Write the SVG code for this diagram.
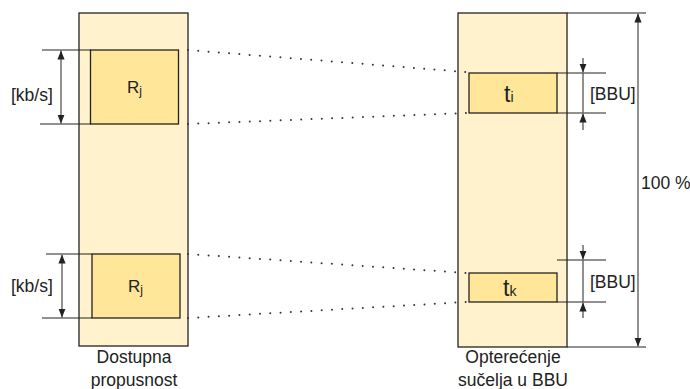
<svg xmlns="http://www.w3.org/2000/svg" width="690" height="389" viewBox="0 0 690 389">
<defs>
<marker id="ah" viewBox="0 0 10 10" refX="10" refY="5" markerWidth="9" markerHeight="9" markerUnits="userSpaceOnUse" orient="auto">
<path d="M0,1 L10,5 L0,9 Z" fill="#222"/>
</marker>
<style>
.col{fill:#FFF2CC;stroke:#222;stroke-width:1.3}
.box{fill:#FFE699;stroke:#222;stroke-width:1.3}
.ext{stroke:#222;stroke-width:1;fill:none}
.dim{stroke:#555;stroke-width:1.3;fill:none}
.dot{stroke:#333;stroke-width:2;stroke-linecap:round;stroke-dasharray:0 10.3;fill:none}
text{font-family:"Liberation Sans",Arial,sans-serif;fill:#222}
.lbl{font-size:17.5px}
.cap{font-size:17.5px;text-anchor:middle}
</style>
</defs>
<g id="col-left">
<rect class="col" x="79" y="13" width="109" height="333"/>
</g>
<g id="col-right">
<rect class="col" x="458" y="13" width="109" height="334"/>
</g>
<g id="rj-top">
<rect class="box" x="90.5" y="50" width="88" height="74"/>
<text x="127" y="93" font-size="17">R<tspan font-size="12" dy="2">j</tspan></text>
</g>
<g id="rj-bottom">
<rect class="box" x="92" y="254" width="88" height="64"/>
<text x="128" y="292" font-size="17">R<tspan font-size="12" dy="2">j</tspan></text>
</g>
<g id="ti">
<rect class="box" x="469" y="73" width="88" height="40"/>
<text x="504" y="102" font-size="23">t<tspan font-size="14">i</tspan></text>
</g>
<g id="tk">
<rect class="box" x="469" y="273" width="88" height="29"/>
<text x="503" y="296" font-size="23">t<tspan font-size="14">k</tspan></text>
</g>
<g id="connectors">
<line class="dot" x1="188" y1="50" x2="466" y2="72"/>
<line class="dot" x1="188" y1="124" x2="466" y2="113"/>
<line class="dot" x1="188" y1="254" x2="466" y2="273"/>
<line class="dot" x1="188" y1="318" x2="466" y2="302"/>
<line class="ext" x1="42" y1="50" x2="91" y2="50"/>
<line class="ext" x1="40" y1="124" x2="91" y2="124"/>
<line class="dim" x1="61" y1="87" x2="61" y2="50.5" marker-end="url(#ah)"/>
<line class="dim" x1="61" y1="87" x2="61" y2="123.5" marker-end="url(#ah)"/>
<line class="ext" x1="46" y1="254" x2="92" y2="254"/>
<line class="ext" x1="42" y1="318" x2="92" y2="318"/>
<line class="dim" x1="62" y1="286" x2="62" y2="254.5" marker-end="url(#ah)"/>
<line class="dim" x1="62" y1="286" x2="62" y2="317.5" marker-end="url(#ah)"/>
<line class="ext" x1="557" y1="73" x2="606" y2="73"/>
<line class="ext" x1="557" y1="113" x2="606" y2="113"/>
<line class="dim" x1="583" y1="73" x2="583" y2="113"/>
<line class="dim" x1="583" y1="58" x2="583" y2="72.5" marker-end="url(#ah)"/>
<line class="dim" x1="583" y1="130" x2="583" y2="113.5" marker-end="url(#ah)"/>
<line class="ext" x1="557" y1="260" x2="606" y2="260"/>
<line class="ext" x1="557" y1="302" x2="606" y2="302"/>
<line class="dim" x1="583" y1="260" x2="583" y2="302"/>
<line class="dim" x1="583" y1="245" x2="583" y2="259.5" marker-end="url(#ah)"/>
<line class="dim" x1="583" y1="318" x2="583" y2="302.5" marker-end="url(#ah)"/>
<line class="ext" x1="567" y1="13" x2="646" y2="13"/>
<line class="ext" x1="567" y1="347" x2="646" y2="347"/>
<line class="dim" x1="638" y1="180" x2="638" y2="13.5" marker-end="url(#ah)"/>
<line class="dim" x1="638" y1="180" x2="638" y2="346.5" marker-end="url(#ah)"/>
</g>
<g id="labels">
<text class="lbl" x="11" y="101">[kb/s]</text>
<text class="lbl" x="11" y="292">[kb/s]</text>
<text class="lbl" x="590" y="100">[BBU]</text>
<text class="lbl" x="590" y="288">[BBU]</text>
<text class="lbl" x="641" y="189">100 %</text>
<text class="cap" x="134" y="363">Dostupna</text>
<text class="cap" x="134" y="386">propusnost</text>
<text class="cap" x="513" y="363">Opterećenje</text>
<text class="cap" x="513" y="386">sučelja u BBU</text>
</g>
</svg>
